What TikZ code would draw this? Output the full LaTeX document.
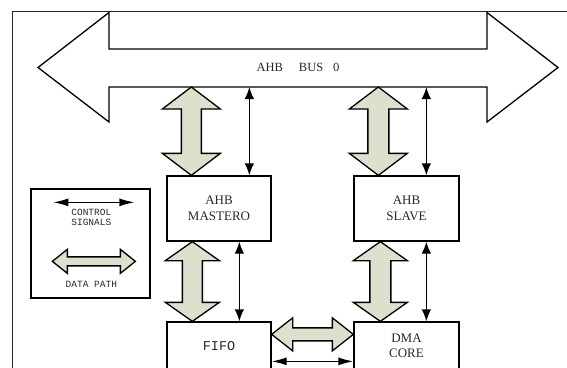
\documentclass[tikz,border=0pt]{standalone}
\usepackage{fontspec}
\setmainfont{Liberation Serif}
\newfontfamily\monof{Liberation Mono}
\usetikzlibrary{calc,arrows.meta}
\definecolor{datafill}{RGB}{221,224,204}
\definecolor{txt}{RGB}{40,40,40}
\tikzset{
  box/.style={draw, line width=1.3pt, inner sep=0pt, align=center, text=txt,
    font=\fontsize{13}{15.5}\selectfont},
  datapath/.style={draw, line width=1.3pt, fill=datafill, line join=miter},
  ctrl/.style={line width=1.3pt, {Latex[length=12pt,width=9.5pt]}-{Latex[length=12pt,width=9.5pt]}},
  ctrlh/.style={line width=1.3pt, {Latex[length=15pt,width=8pt]}-{Latex[length=15pt,width=8pt]}},
  legtext/.style={text=txt, font=\monof\fontsize{9.5}{10.5}\selectfont, align=center, inner sep=0pt},
}
\newcommand\vdarrow[5]{% top, bottom, headhalf, shafthalf, headlen
  \draw[datapath] (#1) -- ($(#1)+(-#3,#5)$) -- ($(#1)+(-#4,#5)$) -- ($(#2)+(-#4,-#5)$)
   -- ($(#2)+(-#3,-#5)$) -- (#2) -- ($(#2)+(#3,-#5)$) -- ($(#2)+(#4,-#5)$)
   -- ($(#1)+(#4,#5)$) -- ($(#1)+(#3,#5)$) -- cycle;}
\newcommand\hdarrow[5]{% left, right, headhalf, shafthalf, headlen
  \draw[datapath] (#1) -- ($(#1)+(#5,-#3)$) -- ($(#1)+(#5,-#4)$) -- ($(#2)+(-#5,-#4)$)
   -- ($(#2)+(-#5,-#3)$) -- (#2) -- ($(#2)+(-#5,#3)$) -- ($(#2)+(-#5,#4)$)
   -- ($(#1)+(#5,#4)$) -- ($(#1)+(#5,#3)$) -- cycle;}
\begin{document}
\begin{tikzpicture}[x=1pt,y=-1pt]
\useasboundingbox (0,0) rectangle (567,367);
\clip (0,0) rectangle (567,367);
% frame
\draw[line width=0.9pt, black!85] (12.5,380) -- (12.5,11) -- (580,11);
% bus
\draw[line width=1.3pt, fill=white, line join=miter] (38,67.5) -- (109,12.5) -- (109,49) -- (487,49) -- (487,12.5)
  -- (558,67.5) -- (487,122) -- (487,87) -- (109,87) -- (109,122) -- cycle;
\node[text=txt, font=\fontsize{12.5}{15}\selectfont, inner sep=0pt] (bus) at (298,67.5) {AHB\hspace{16pt}BUS\hspace{10pt}0};
\coordinate (busbot) at (0,87);
% boxes
\node[box, minimum width=104pt, minimum height=65pt] (mas) at (219,208.5) {AHB\\MASTERO};
\node[box, minimum width=105pt, minimum height=65pt] (sla) at (406.5,208.5) {AHB\\SLAVE};
\node[box, minimum width=104pt, minimum height=48pt, font=\monof\fontsize{13.5}{15}\selectfont] (fifo) at (219,346) {FIFO};
\node[box, minimum width=105pt, minimum height=48pt] (dma) at (406.5,346) {DMA\\CORE};
% master upper
\coordinate (d1b) at ($(mas.north west)+(25,0)$);
\coordinate (d1t) at (d1b |- busbot);
\vdarrow{d1t}{d1b}{29}{10}{22}
\coordinate (c1b) at ($(mas.north west)+(83,0)$);
\coordinate (c1t) at (c1b |- busbot);
\draw[ctrl] (c1t) -- (c1b);
% master lower
\coordinate (d2t) at ($(mas.south west)+(26,0)$);
\coordinate (d2b) at (d2t |- fifo.north);
\vdarrow{d2t}{d2b}{27}{10}{19}
\coordinate (c2t) at ($(mas.south west)+(73,0)$);
\coordinate (c2b) at (c2t |- fifo.north);
\draw[ctrl] (c2t) -- (c2b);
% slave upper
\coordinate (d3b) at ($(sla.north west)+(25,0)$);
\coordinate (d3t) at (d3b |- busbot);
\vdarrow{d3t}{d3b}{29}{10.5}{22}
\coordinate (c3b) at ($(sla.north west)+(73,0)$);
\coordinate (c3t) at (c3b |- busbot);
\draw[ctrl] (c3t) -- (c3b);
% slave lower
\coordinate (d4t) at ($(sla.south west)+(27,0)$);
\coordinate (d4b) at (d4t |- dma.north);
\vdarrow{d4t}{d4b}{27}{10.5}{19}
\coordinate (c4t) at ($(sla.south west)+(73,0)$);
\coordinate (c4b) at (c4t |- dma.north);
\draw[ctrl] (c4t) -- (c4b);
% fifo - dma
\coordinate (h1) at ($(fifo.north east)+(0,13)$);
\coordinate (h2) at (h1 -| dma.west);
\hdarrow{h1}{h2}{16.5}{6.5}{21}
\coordinate (h3) at ($(fifo.north east)+(0,40)$);
\coordinate (h4) at (h3 -| dma.west);
\draw[ctrlh] (h3) -- (h4);
% legend
\node[draw, line width=1.3pt, minimum width=119pt, minimum height=109pt, inner sep=0pt] (leg) at (90.5,243.5) {};
\coordinate (l1) at ($(leg.north west)+(23,14)$);
\coordinate (l2) at ($(leg.north west)+(104,14)$);
\draw[ctrlh] (l1) -- (l2);
\node[legtext] (lt1) at ($(leg.north west)+(61,29)$) {CONTROL\\SIGNALS};
\coordinate (l3) at ($(leg.north west)+(22,73)$);
\coordinate (l4) at ($(leg.north west)+(105,73)$);
\hdarrow{l3}{l4}{12}{4.5}{15}
\node[legtext] (lt2) at ($(leg.north west)+(61,96)$) {DATA PATH};
\end{tikzpicture}
\end{document}
